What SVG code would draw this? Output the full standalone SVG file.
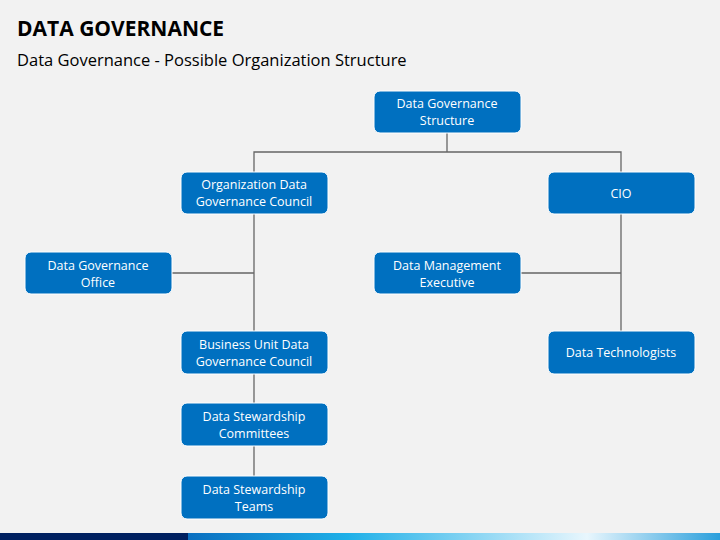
<svg xmlns="http://www.w3.org/2000/svg" width="720" height="540" viewBox="0 0 720 540">
<defs>
<linearGradient id="g" x1="0" x2="1" y1="0" y2="0">
<stop offset="0" stop-color="#0a6fc0"/><stop offset="0.3" stop-color="#1fb0e8"/><stop offset="0.75" stop-color="#e8f6fd"/><stop offset="1" stop-color="#2a9fdc"/>
</linearGradient>
</defs>
<style>
.n rect{fill:#0070c0;stroke:#fff;stroke-width:1}
.n text{fill:#fff;font-family:"Open Sans","Noto Sans",sans-serif;font-size:12.5px;text-anchor:middle}
.c{stroke:#666;stroke-width:1.3;fill:none}
</style>
<rect width="720" height="540" fill="#f2f2f2"/>
<text x="17" y="36" font-family="Open Sans, sans-serif" font-weight="bold" font-size="21" fill="#000">DATA GOVERNANCE</text>
<text x="17" y="66" font-family="Open Sans, sans-serif" font-size="16.5" fill="#000">Data Governance - Possible Organization Structure</text>
<g id="connectors" class="c">
<path d="M447 133V152M254 172V152H621V172"/>
<path d="M254 214V476M172 273H254"/>
<path d="M621 214V331M521 273H621"/>
</g>
<g id="n1" class="n"><rect x="374" y="91" width="147" height="42" rx="6"/><text x="447" y="108">Data Governance</text><text x="447" y="125">Structure</text></g>
<g id="n2" class="n"><rect x="181" y="172" width="147" height="42" rx="6"/><text x="254" y="189">Organization Data</text><text x="254" y="206">Governance Council</text></g>
<g id="n3" class="n"><rect x="548" y="172" width="147" height="42" rx="6"/><text x="621" y="198">CIO</text></g>
<g id="n4" class="n"><rect x="25" y="252" width="147" height="42" rx="6"/><text x="98" y="270">Data Governance</text><text x="98" y="287">Office</text></g>
<g id="n5" class="n"><rect x="374" y="252" width="147" height="42" rx="6"/><text x="447" y="270">Data Management</text><text x="447" y="287">Executive</text></g>
<g id="n6" class="n"><rect x="181" y="331" width="147" height="43" rx="6"/><text x="254" y="349">Business Unit Data</text><text x="254" y="366">Governance Council</text></g>
<g id="n7" class="n"><rect x="548" y="331" width="147" height="43" rx="6"/><text x="621" y="357">Data Technologists</text></g>
<g id="n8" class="n"><rect x="181" y="403" width="147" height="43" rx="6"/><text x="254" y="421">Data Stewardship</text><text x="254" y="438">Committees</text></g>
<g id="n9" class="n"><rect x="181" y="476" width="147" height="43" rx="6"/><text x="254" y="494">Data Stewardship</text><text x="254" y="511">Teams</text></g>
<rect x="0" y="533" width="190" height="7" fill="#002060"/>
<rect x="188" y="533" width="532" height="7" fill="url(#g)"/>
</svg>
